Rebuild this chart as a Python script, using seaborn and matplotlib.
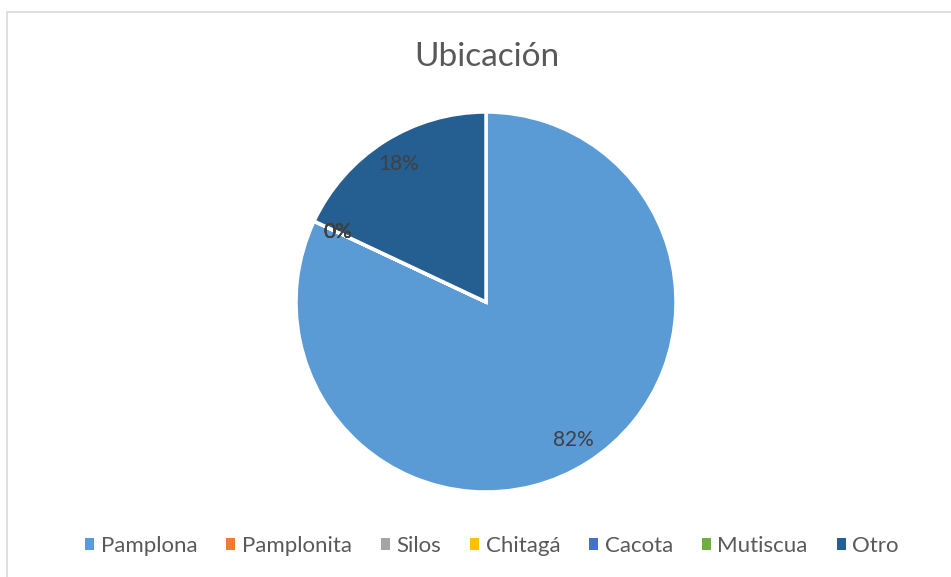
import matplotlib.pyplot as plt
import matplotlib.patches as mpatches
import seaborn as sns

# Datos del gráfico (porcentajes por ubicación)
categorias = ["Pamplona", "Pamplonita", "Silos", "Chitagá", "Cacota", "Mutiscua", "Otro"]
valores = [82, 0, 0, 0, 0, 0, 18]
colores = ["#5B9BD5", "#ED7D31", "#A5A5A5", "#FFC000", "#4472C4", "#70AD47", "#255E91"]
titulo = "Ubicación"

sns.set_style("white")
plt.rcParams["font.family"] = ["Lato", "DejaVu Sans"]

W, H = 951, 577
fig = plt.figure(figsize=(W / 100, H / 100), dpi=100)

# Marco gris claro alrededor del gráfico (se corta a la derecha y abajo)
borde = mpatches.Rectangle((7 / W, -0.2), 1.2, (H - 12) / H + 0.2, transform=fig.transFigure,
                           fill=False, edgecolor="#D9D9D9", linewidth=1.2)
fig.patches.append(borde)

# Eje del pastel: centro (486, 302), radio 190 px
cx, cy, r = 486, 302, 190
ax = fig.add_axes([(cx - r) / W, (H - cy - r) / H, 2 * r / W, 2 * r / H])

wedges, textos, autotextos = ax.pie(
    valores,
    colors=colores,
    startangle=90,
    counterclock=False,
    autopct="%1.0f%%",
    pctdistance=0.86,
    wedgeprops=dict(edgecolor="white", linewidth=2.5),
    textprops=dict(color="#404040", fontsize=15),
)
ax.set_xlim(-1, 1)
ax.set_ylim(-1, 1)
ax.set_aspect("equal")
ax.axis("off")

fig.text(487 / W, 1 - 57 / H, titulo, ha="center", va="center",
         fontsize=24, color="#595959")

handles = [mpatches.Patch(facecolor=c, edgecolor="none") for c in colores]
fig.legend(handles, categorias, loc="center", bbox_to_anchor=(492 / W, 1 - 546 / H),
           ncol=len(categorias), frameon=False, fontsize=16,
           labelcolor="#595959", handlelength=0.4, handleheight=0.4,
           handletextpad=0.3, columnspacing=1.3)

fig.savefig("out.png", dpi=100)
